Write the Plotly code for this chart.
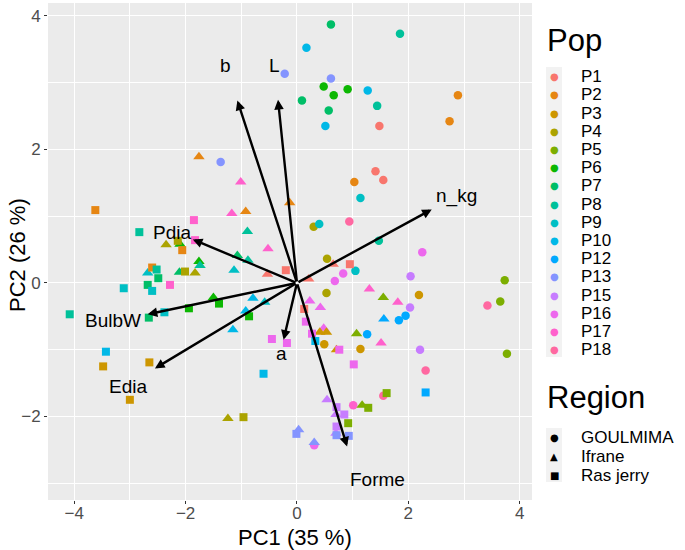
import plotly.graph_objects as go

# ---- data ----
pops = ["P1", "P2", "P3", "P4", "P5", "P6", "P7", "P8", "P9", "P10",
        "P12", "P13", "P15", "P16", "P17", "P18"]
regions = ["GOULMIMA", "Ifrane", "Ras jerry"]

# GOULMIMA (circles)
g_pop = ["P7", "P10", "P13", "P13", "P6", "P6", "P6", "P10", "P7", "P7", "P10", "P13",
         "P8", "P8", "P1", "P2", "P2", "P1", "P1", "P9", "P8", "P16", "P15", "P3",
         "P15", "P12", "P12", "P5", "P5", "P18", "P12", "P3", "P15", "P5", "P18", "P18",
         "P3", "P17", "P16", "P2", "P4", "P9", "P18", "P4", "P9", "P16", "P16", "P4"]
g_pc1 = [0.61, 0.17, -0.22, 0.61, 0.48, 0.66, 0.91, 1.27, 0.09, 0.57, 0.51, -1.37,
         1.85, 1.44, 1.48, 2.89, 2.74, 1.41, 1.55, 1.14, 1.47, 2.25, 2.04, 2.19,
         2.03, 1.95, 1.83, 3.73, 3.65, 3.42, 1.26, 1.14, 2.21, 3.77, 2.31, 1.55,
         0.49, 1.01, 0.31, 1.03, 0.30, 0.40, 0.94, 0.54, 1.05, 0.83, 0.68, 0.53]
g_pc2 = [3.87, 3.52, 3.13, 3.06, 2.94, 2.81, 2.90, 2.88, 2.73, 2.58, 2.35, 1.81,
         3.73, 2.65, 2.35, 2.81, 2.42, 1.67, 1.54, 1.27, 0.63, 0.46, 0.10, -0.18,
         -0.37, -0.49, -0.56, 0.04, -0.28, -0.34, -0.77, -0.99, -1.00, -1.06, -1.31, -1.69,
         -0.92, -1.83, -2.43, 1.51, 0.84, 0.88, 0.92, 0.36, 0.18, 0.14, 0.03, -0.15]

# Ifrane (triangles)
i_pop = ["P2", "P17", "P5", "P17", "P12", "P17", "P10", "P16", "P3", "P3", "P3", "P5",
         "P15", "P5", "P15", "P15", "P13", "P13", "P4", "P4", "P6", "P9", "P6", "P8",
         "P7", "P4", "P17", "P17", "P2", "P2", "P8", "P17", "P7", "P8", "P9", "P1",
         "P1", "P1", "P6", "P10", "P9", "P10", "P16", "P16"]
i_pc1 = [-1.76, 1.30, 1.55, 1.81, 1.56, 1.51, -1.15, 0.48, 0.53, 0.41, 0.71, 1.07,
         0.54, 1.17, 0.70, 0.70, 0.03, 0.31, -1.24, -2.35, -2.10, -2.68, -1.76, -1.74,
         -2.11, -1.83, -1.01, -1.17, -0.92, -0.13, -0.89, -0.52, -1.07, -0.88, -1.13, -0.53,
         0.65, 0.21, -1.50, -0.79, -0.58, -0.92, 0.23, 0.42]
i_pc2 = [1.89, -0.09, -0.22, -0.29, -0.54, -0.90, -0.70, -0.68, -0.74, -0.74, -1.00, -0.76,
         -1.75, -1.83, -1.97, -2.25, -2.20, -2.39, -2.03, 0.57, 0.58, 0.15, 0.32, 0.26,
         0.16, 0.15, 1.51, 1.04, 1.07, 1.20, 0.77, 0.51, 0.41, 0.34, 0.19, 0.13,
         0.28, 0.06, -0.22, -0.23, -0.29, -0.42, -0.27, -0.37]

# Ras jerry (squares)
r_pop = ["P10", "P3", "P3", "P3", "P7", "P2", "P8", "P17", "P17", "P4", "P2", "P2",
         "P8", "P7", "P7", "P9", "P9", "P17", "P4", "P8", "P9", "P6", "P16", "P16",
         "P16", "P16", "P10", "P16", "P16", "P10", "P15", "P15", "P5", "P15", "P13", "P13",
         "P13", "P4", "P12", "P5", "P5", "P1", "P1", "P6", "P6", "P1"]
r_pc1 = [-3.43, -3.48, -2.65, -3.00, -2.66, -3.62, -2.83, -1.85, -1.83, -2.14, -2.06, -2.60,
         -2.52, -2.49, -2.68, -2.60, -3.11, -2.28, -2.01, -4.08, -2.38, -1.94, -0.45, -0.18,
         0.16, 0.27, 0.33, 0.76, 1.02, -0.60, 0.71, 0.85, 0.92, 0.71, 0.71, 0.93,
         -0.01, -0.96, 2.31, 1.61, 1.28, -0.20, 0.95, -1.40, -0.86, 0.13]
r_pc2 = [-1.03, -1.25, -1.19, -1.75, -0.52, 1.09, 0.76, 0.94, 0.64, 0.63, 0.49, 0.23,
         0.20, 0.07, -0.03, -0.12, -0.08, -0.03, 0.17, -0.47, -0.44, -0.38, -0.84, -0.90,
         -0.58, -0.76, -0.87, -1.00, -1.22, -1.36, -1.86, -1.97, -2.10, -2.15, -2.28, -2.29,
         -2.26, -2.01, -1.64, -1.65, -1.87, 0.19, 0.28, -0.31, -0.50, -0.39]

# variable loadings (arrow tips) and label positions
var_names = ["b", "L", "n_kg", "Pdia", "BulbW", "Edia", "a", "Forme"]
load_x = [-1.07, -0.34, 2.42, -1.87, -2.68, -2.55, -0.24, 0.90]
load_y = [2.73, 2.74, 1.10, 0.65, -0.47, -1.28, -0.85, -2.45]
lab_x = [-1.29, -0.41, 2.87, -2.24, -3.30, -3.04, -0.28, 1.45]
lab_y = [3.25, 3.26, 1.30, 0.76, -0.57, -1.55, -1.05, -2.94]

# ---- styling ----
pop_colors = ["#F8766D", "#E68613", "#CD9600", "#ABA300", "#7CAE00", "#0CB702",
              "#00BE67", "#00C19A", "#00BFC4", "#00B8E7", "#00A9FF", "#8494FF",
              "#C77CFF", "#ED68ED", "#FF61CC", "#FF68A1"]
col = dict(zip(pops, pop_colors))
FONT = "Liberation Sans, Arial, sans-serif"

fig = go.Figure()
for pl, xs, ys, sym, sz in [(g_pop, g_pc1, g_pc2, "circle", 8.5),
                            (i_pop, i_pc1, i_pc2, "triangle-up", 10),
                            (r_pop, r_pc1, r_pc2, "square", 8)]:
    fig.add_scatter(x=xs, y=ys, mode="markers", showlegend=False,
                    marker=dict(symbol=sym, size=sz, color=[col[p] for p in pl],
                                line=dict(width=0)))

annotations = []
for name, tx, ty, lx, ly in zip(var_names, load_x, load_y, lab_x, lab_y):
    annotations.append(dict(x=tx, y=ty, ax=0, ay=0, xref="x", yref="y", axref="x", ayref="y",
                            text="", showarrow=True, arrowhead=2, arrowsize=0.8,
                            arrowwidth=2.4, arrowcolor="black", standoff=0))
    annotations.append(dict(x=lx, y=ly, xref="x", yref="y", text=name, showarrow=False,
                            font=dict(family=FONT, size=19, color="black")))

# ---- hand-built legends / titles (pixel positions converted to paper coords) ----
L, R, T, B, W, H = 48, 153, 3, 50, 685, 550
pw, ph = W - L - R, H - T - B


def px(x):
    return (x - L) / pw


def py(y):
    return (H - B - y) / ph


annotations.append(dict(x=px(295), y=py(537), xref="paper", yref="paper", text="PC1 (35 %)",
                        showarrow=False, xanchor="center", yanchor="middle",
                        font=dict(family=FONT, size=22, color="black")))
annotations.append(dict(x=px(17), y=py(255), xref="paper", yref="paper", text="PC2 (26 %)",
                        showarrow=False, xanchor="center", yanchor="middle", textangle=-90,
                        font=dict(family=FONT, size=22, color="black")))

shapes = [dict(type="rect", xref="paper", yref="paper", x0=px(546), x1=px(562),
               y0=py(67), y1=py(357), fillcolor="#F2F2F2", line=dict(width=0), layer="below"),
          dict(type="rect", xref="paper", yref="paper", x0=px(546), x1=px(562),
               y0=py(428), y1=py(482), fillcolor="#F2F2F2", line=dict(width=0), layer="below")]

annotations.append(dict(x=px(545), y=py(40), xref="paper", yref="paper", text="Pop",
                        showarrow=False, xanchor="left", yanchor="middle",
                        font=dict(family=FONT, size=31, color="black")))
for k, p in enumerate(pops):
    yy = 76.7 + k * 18.2
    annotations.append(dict(x=px(554), y=py(yy), xref="paper", yref="paper", text="●",
                            showarrow=False, xanchor="center", yanchor="middle",
                            font=dict(family="DejaVu Sans", size=10, color=col[p])))
    annotations.append(dict(x=px(579), y=py(yy), xref="paper", yref="paper", text=p,
                            showarrow=False, xanchor="left", yanchor="middle",
                            font=dict(family=FONT, size=17, color="black")))

annotations.append(dict(x=px(545), y=py(397), xref="paper", yref="paper", text="Region",
                        showarrow=False, xanchor="left", yanchor="middle",
                        font=dict(family=FONT, size=31, color="black")))
for k, (rg, glyph) in enumerate(zip(regions, ["●", "▲", "■"])):
    yy = 437 + k * 19
    annotations.append(dict(x=px(554), y=py(yy), xref="paper", yref="paper", text=glyph,
                            showarrow=False, xanchor="center", yanchor="middle",
                            font=dict(family="DejaVu Sans", size=10, color="black")))
    annotations.append(dict(x=px(579), y=py(yy), xref="paper", yref="paper", text=rg,
                            showarrow=False, xanchor="left", yanchor="middle",
                            font=dict(family=FONT, size=17, color="black")))

axis_common = dict(showgrid=True, gridcolor="white", gridwidth=1.1, zeroline=False,
                   ticks="outside", ticklen=3, tickcolor="#333333", showline=False,
                   automargin=False,
                   tickfont=dict(family=FONT, size=17, color="#4D4D4D"),
                   minor=dict(dtick=1, showgrid=True, gridcolor="white", gridwidth=0.5))

fig.update_layout(
    width=W, height=H,
    margin=dict(l=L, r=R, t=T, b=B),
    plot_bgcolor="#EBEBEB", paper_bgcolor="white",
    xaxis=dict(axis_common, range=[-4.47, 4.22], dtick=2, tick0=0, ticklabelstandoff=-5),
    yaxis=dict(axis_common, range=[-3.25, 4.19], dtick=2, tick0=0),
    annotations=annotations, shapes=shapes,
)

# the page's default body margin would shift the figure by 8px
fig.write_html("out.html", config={"displayModeBar": False},
               post_script="document.body.style.margin='0';")
